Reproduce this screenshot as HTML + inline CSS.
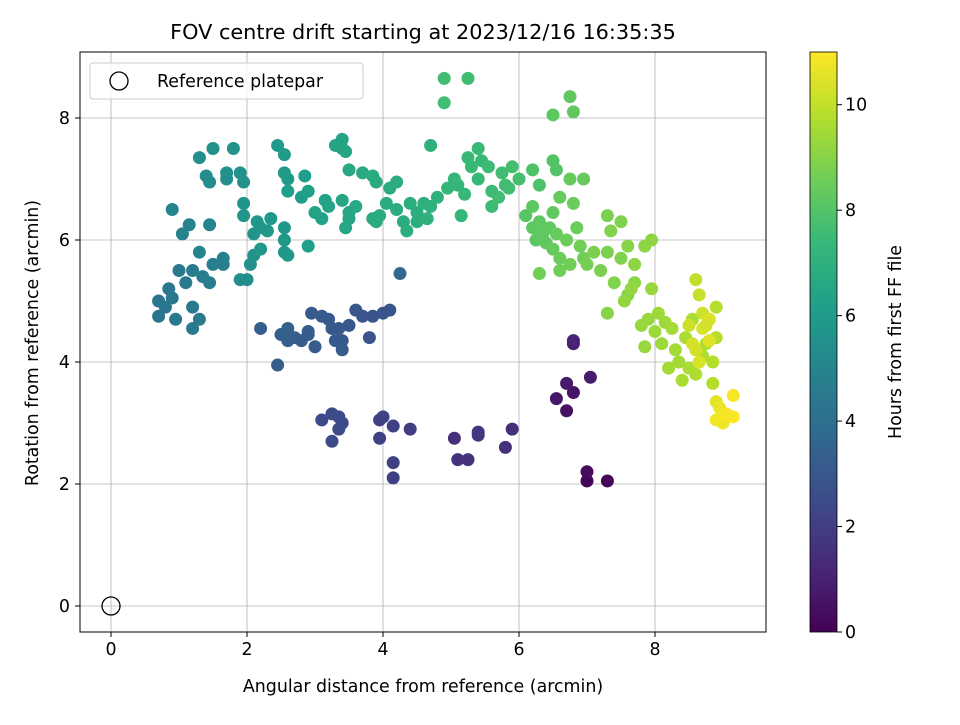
<!DOCTYPE html>
<html><head><meta charset="utf-8"><style>
body{margin:0;background:#fff}
svg text{font-family:"DejaVu Sans","Liberation Sans",sans-serif;fill:#000}
</style></head><body>
<svg id="chart" width="960" height="720" xmlns="http://www.w3.org/2000/svg">
<rect width="960" height="720" fill="#fff"/>
<text x="423" y="39" style="font-size:20.8px" text-anchor="middle">FOV centre drift starting at 2023/12/16 16:35:35</text>
<g id="grid"></g>
<g id="points"></g>
<rect x="80" y="52" width="686" height="580" fill="none" stroke="#000" stroke-width="1"/>
<g id="ticks"></g>
<text x="423" y="692" style="font-size:17.4px" text-anchor="middle">Angular distance from reference (arcmin)</text>
<text transform="translate(38,343) rotate(-90)" style="font-size:17.4px" text-anchor="middle">Rotation from reference (arcmin)</text>
<g>
<rect x="90" y="63" width="273" height="36" rx="3" fill="#fff" fill-opacity="0.8" stroke="#ccc"/>
<circle cx="119" cy="81" r="9" fill="none" stroke="#000" stroke-width="1.3"/>
<text x="157" y="87" style="font-size:17.4px">Reference platepar</text>
</g>
<defs><linearGradient id="vir" x1="0" y1="1" x2="0" y2="0"></linearGradient></defs>
<rect x="810" y="52" width="27" height="580" fill="url(#vir)" stroke="#000" stroke-width="0.8"/>
<g id="cbticks"></g>
<text transform="translate(901,342) rotate(-90)" style="font-size:17.4px" text-anchor="middle">Hours from first FF file</text>
</svg>
<script>
const xTicks=[0,2,4,6,8];
const yTicks=[0,2,4,6,8];
const cbTicks=[0,2,4,6,8,10];
const refPoint=[0,0];
const xs=[7.0,7.3,7.0,6.7,6.8,6.55,6.7,7.05,6.8,6.8,
5.05,5.1,5.25,5.4,5.4,5.8,5.9,4.4,4.15,4.15,4.15,3.95,4.0,3.95,3.25,3.35,3.4,3.1,3.25,3.35,
2.2,2.45,2.5,2.6,2.6,2.7,2.8,2.9,2.95,3.0,3.1,3.2,3.25,3.3,3.4,3.4,3.35,3.5,3.6,3.7,3.8,3.85,4.0,4.1,4.25,2.9,
0.7,0.7,0.8,0.85,0.9,0.95,1.0,1.1,1.2,1.2,1.3,1.2,1.35,1.45,1.5,1.65,1.65,1.05,1.15,1.3,1.45,0.9,
1.3,1.4,1.45,1.5,1.7,1.7,1.8,1.9,1.95,1.95,1.95,1.9,2.0,2.05,2.1,2.1,2.15,2.2,2.2,2.3,2.35,2.45,2.55,2.55,2.6,2.55,2.55,2.55,2.6,2.6,2.8,2.85,2.9,2.9,3.0,3.1,3.15,3.2,3.3,3.4,3.4,3.45,3.4,3.45,3.5,3.5,3.6,3.5,3.7,3.85,3.9,3.85,3.95,3.9,4.05,4.1,4.2,4.2,4.3,4.35,4.4,4.5,4.5,4.6,4.65,4.7,4.7,4.8,
4.9,4.9,5.25,4.95,5.05,5.1,5.15,5.2,5.25,5.3,5.4,5.4,5.45,5.55,5.6,5.6,5.7,5.75,5.8,5.85,5.9,6.0,6.2,6.3,6.5,6.55,6.5,6.75,6.8,6.75,6.95,
6.1,6.2,6.2,6.25,6.3,6.35,6.4,6.45,6.5,6.5,6.55,6.6,6.6,6.7,6.75,6.8,6.85,6.9,6.95,7.0,6.3,6.6,7.1,7.2,7.3,7.3,7.4,7.35,7.5,7.5,7.3,7.6,7.6,7.7,7.7,7.85,7.95,
7.55,7.65,7.8,7.85,7.9,7.95,8.0,8.05,8.1,8.15,8.2,8.25,8.3,8.35,8.4,8.45,8.5,8.55,8.6,8.7,8.75,8.85,8.85,8.9,8.9,
8.6,8.65,8.7,8.5,8.55,8.6,8.7,8.8,8.8,8.9,8.95,9.0,8.9,9.15,9.15,9.05,8.75,8.65];
const ys=[2.05,2.05,2.2,3.2,3.5,3.4,3.65,3.75,4.3,4.35,
2.75,2.4,2.4,2.8,2.85,2.6,2.9,2.9,2.35,2.1,2.95,3.05,3.1,2.75,2.7,2.9,3.0,3.05,3.15,3.1,
4.55,3.95,4.45,4.55,4.35,4.4,4.35,4.45,4.8,4.25,4.75,4.7,4.55,4.35,4.2,4.35,4.55,4.6,4.85,4.75,4.4,4.75,4.8,4.85,5.45,4.5,
5.0,4.75,4.9,5.2,5.05,4.7,5.5,5.3,4.9,4.55,4.7,5.5,5.4,5.3,5.6,5.6,5.7,6.1,6.25,5.8,6.25,6.5,
7.35,7.05,6.95,7.5,7.1,7.0,7.5,7.1,6.95,6.6,6.4,5.35,5.35,5.6,5.75,6.1,6.3,6.2,5.85,6.15,6.35,7.55,7.4,7.1,7.0,6.2,6.0,5.8,5.75,6.8,6.7,7.05,6.8,5.9,6.45,6.35,6.65,6.55,7.55,7.5,7.65,7.45,6.65,6.2,6.35,6.45,6.55,7.15,7.1,7.05,6.95,6.35,6.4,6.3,6.6,6.85,6.95,6.5,6.3,6.15,6.6,6.45,6.3,6.6,6.35,6.55,7.55,6.7,
8.65,8.25,8.65,6.85,7.0,6.9,6.4,6.75,7.35,7.2,7.0,7.5,7.3,7.2,6.8,6.55,6.7,7.1,6.9,6.85,7.2,7.0,7.15,6.9,7.3,7.15,8.05,8.35,8.1,7.0,7.0,
6.4,6.2,6.55,6.0,6.3,6.1,5.95,6.2,5.85,6.45,6.1,6.7,5.7,6.0,5.6,6.6,6.2,5.9,5.7,5.6,5.45,5.5,5.8,5.5,5.8,6.4,5.3,6.15,6.3,5.7,4.8,5.1,5.9,5.3,5.6,5.9,6.0,
5.0,5.2,4.6,4.25,4.7,5.2,4.5,4.8,4.3,4.65,3.9,4.55,4.2,4.0,3.7,4.4,3.9,4.7,3.8,4.1,4.3,3.65,4.0,4.4,4.9,
5.35,5.1,4.8,4.6,4.3,4.2,4.55,4.7,4.35,3.35,3.25,3.0,3.05,3.45,3.1,3.15,4.6,4.0];
const hours=[0.1,0.2,0.3,0.5,0.6,0.7,0.8,0.9,1.0,1.1,
1.5,1.55,1.6,1.65,1.7,1.5,1.45,2.0,2.05,2.05,2.1,2.1,2.15,2.15,2.4,2.4,2.45,2.45,2.5,2.5,
3.3,3.2,3.3,3.3,3.3,3.3,3.2,3.2,3.1,3.2,3.1,3.1,3.1,3.1,3.1,3.1,3.0,3.0,3.0,2.9,2.9,2.9,2.9,2.9,3.7,3.2,
4.3,4.3,4.3,4.4,4.4,4.4,4.5,4.5,4.5,4.5,4.5,4.6,4.6,4.6,4.7,4.7,4.8,4.9,4.9,5.0,5.0,5.0,
5.4,5.4,5.4,5.5,5.5,5.5,5.6,5.6,5.6,5.7,5.7,5.4,5.4,5.5,5.6,5.7,5.8,5.8,5.8,5.9,5.9,6.0,6.0,6.0,6.0,5.9,5.9,5.9,5.9,6.1,6.1,6.1,6.2,6.2,6.3,6.3,6.3,6.4,6.4,6.4,6.4,6.5,6.5,6.5,6.5,6.5,6.6,6.6,6.6,6.7,6.7,6.7,6.7,6.7,6.8,6.8,6.8,6.8,6.8,6.9,6.9,6.9,6.9,7.0,7.0,7.0,7.0,7.0,
7.6,7.6,7.6,7.3,7.3,7.3,7.3,7.4,7.4,7.4,7.4,7.4,7.4,7.5,7.5,7.5,7.6,7.6,7.6,7.6,7.7,7.7,7.9,7.9,8.0,8.0,8.2,8.3,8.3,8.4,8.4,
8.1,8.2,8.2,8.2,8.2,8.3,8.3,8.3,8.4,8.3,8.4,8.4,8.5,8.5,8.6,8.5,8.5,8.6,8.6,8.7,8.6,8.6,8.8,8.8,8.8,8.8,8.9,8.9,8.9,8.9,9.0,9.0,9.0,9.1,9.1,9.1,9.1,
9.2,9.2,9.3,9.3,9.3,9.3,9.4,9.4,9.4,9.4,9.5,9.5,9.5,9.5,9.6,9.6,9.6,9.6,9.7,9.7,9.7,9.8,9.8,9.8,9.8,
10.0,10.1,10.2,10.2,10.3,10.3,10.4,10.4,10.5,10.6,10.7,10.8,10.8,10.9,11.0,10.9,10.3,10.4];
const hMax=11;
const X=v=>111+v*68, Y=v=>606-v*61, C=h=>632-h*(580/hMax);
const vir=[[68,1,84],[72,40,120],[62,74,137],[49,104,142],[38,130,142],[31,158,137],[53,183,121],[109,205,89],[180,222,44],[253,231,37]];
function col(h){let t=Math.max(0,Math.min(1,h/hMax))*(vir.length-1);let i=Math.min(Math.floor(t),vir.length-2),f=t-i;
return 'rgb('+vir[i].map((c,k)=>Math.round(c+(vir[i+1][k]-c)*f)).join(',')+')';}
const NS='http://www.w3.org/2000/svg';
function mk(tag,attrs,parent){const e=document.createElementNS(NS,tag);for(const k in attrs)e.setAttribute(k,attrs[k]);parent.appendChild(e);return e;}
const grid=document.getElementById('grid'),ticks=document.getElementById('ticks'),pts=document.getElementById('points');
xTicks.forEach(v=>{const g=mk('line',{x1:X(v),x2:X(v),y1:52,y2:632,stroke:'#b0b0b0','stroke-width':0.8},grid);


mk('line',{x1:X(v),x2:X(v),y1:632,y2:637,stroke:'#000'},ticks);
const t=mk('text',{x:X(v),y:655,style:'font-size:17.4px','text-anchor':'middle'},ticks);t.textContent=v;

});
yTicks.forEach(v=>{const g=mk('line',{x1:80,x2:766,y1:Y(v),y2:Y(v),stroke:'#b0b0b0','stroke-width':0.8},grid);


mk('line',{x1:75,x2:80,y1:Y(v),y2:Y(v),stroke:'#000'},ticks);
const t=mk('text',{x:70,y:Y(v)+6,style:'font-size:17.4px','text-anchor':'end'},ticks);t.textContent=v;

});
for(let i=0;i<xs.length;i++){const c=mk('circle',{cx:X(xs[i]),cy:Y(ys[i]),r:6.5,fill:col(hours[i])},pts);

}
const ref=mk('circle',{cx:X(refPoint[0]),cy:Y(refPoint[1]),r:9,fill:'none',stroke:'#000','stroke-width':1.3},pts);


const grad=document.getElementById('vir');
vir.forEach((c,i)=>mk('stop',{offset:(i/(vir.length-1)),'stop-color':'rgb('+c.join(',')+')'},grad));
const cbt=document.getElementById('cbticks');
cbTicks.forEach(v=>{mk('line',{x1:837,x2:842,y1:C(v),y2:C(v),stroke:'#000'},cbt);
const t=mk('text',{x:845,y:C(v)+6,style:'font-size:17.4px'},cbt);t.textContent=v;

});
</script>
</body></html>
